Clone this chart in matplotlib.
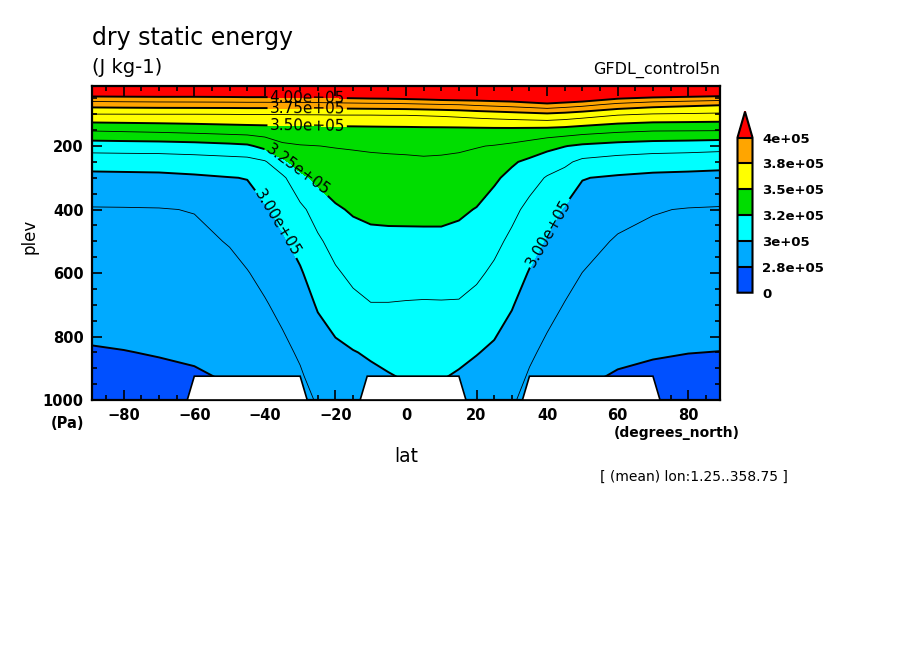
import numpy as np
import matplotlib
matplotlib.use("Agg")
import matplotlib.pyplot as plt
from matplotlib.ticker import MultipleLocator

W, H = 904, 654  # output size in pixels (dpi 100)

# --- data: zonal mean dry static energy (kJ/kg) ----
lat = [-89, -80, -70, -60, -50, -45, -40, -35, -30, -25, -20, -15, -10, -5,
       0, 5, 10, 15, 20, 25, 30, 35, 40, 45, 50, 60, 70, 80, 89]
plev = [1000, 925, 850, 700, 600, 500, 400, 300, 250, 200, 150, 100,
        70, 50, 30, 20, 10]

dse_1000 = [270.4, 270.8, 271.5, 272.3, 273.6, 275.2, 277.0, 280.0, 284.0, 288.5,
            291.0, 293.5, 295.0, 296.0, 297.0, 297.0, 296.0, 295.0, 293.0, 291.0,
            289.0, 283.4, 278.9, 274.8, 273.6, 272.4, 271.6, 271.1, 270.9]
dse_925 = [272.4, 272.8, 273.5, 274.2, 275.7, 277.3, 279.4, 282.4, 286.3, 291.6,
           294.3, 296.5, 297.8, 299.3, 301.0, 301.5, 300.8, 298.8, 296.7, 294.5,
           291.9, 286.4, 282.0, 278.0, 276.2, 274.4, 273.6, 273.1, 272.9]
dse_850 = [274.4, 274.8, 275.4, 276.1, 277.8, 279.5, 281.8, 284.9, 288.9, 294.7,
           297.6, 299.5, 301.3, 303.4, 304.6, 304.9, 304.4, 302.9, 300.5, 298.1,
           294.8, 289.3, 285.0, 281.0, 278.8, 276.5, 275.6, 275.1, 274.9]
dse_700 = [278.5, 278.8, 279.3, 279.9, 282.1, 284.0, 286.6, 290.3, 294.9, 301.0,
           305.3, 309.3, 312.1, 312.1, 311.8, 311.6, 311.7, 311.6, 309.0, 305.4,
           300.7, 295.3, 291.0, 287.1, 284.0, 280.7, 279.6, 279.1, 278.8]
dse_600 = [281.2, 281.5, 281.9, 282.5, 284.9, 287.0, 290.4, 294.3, 298.8, 305.8,
           310.9, 315.4, 317.3, 317.3, 317.1, 317.0, 317.1, 316.7, 314.5, 310.4,
           305.4, 299.3, 295.0, 291.0, 287.4, 283.5, 282.3, 281.7, 281.4]
dse_500 = [283.9, 284.2, 284.5, 285.1, 288.1, 291.3, 294.4, 298.4, 303.9, 310.5,
           317.1, 320.8, 322.3, 322.5, 322.5, 322.5, 322.5, 321.6, 319.5, 315.5,
           310.0, 304.2, 299.0, 295.0, 291.7, 286.3, 285.0, 284.4, 284.0]
dse_400 = [286.7, 286.8, 287.0, 287.9, 293.9, 295.7, 298.5, 303.8, 309.6, 318.0,
           323.6, 326.2, 327.4, 327.7, 327.8, 327.9, 327.9, 326.8, 324.5, 320.6,
           315.5, 309.4, 305.0, 298.9, 295.9, 291.5, 288.1, 287.0, 286.6]
dse_300 = [296.5, 296.8, 297.2, 298.3, 299.7, 300.3, 306.2, 310.2, 322.2, 327.6,
           330.6, 332.0, 332.7, 332.9, 333.1, 333.3, 333.1, 332.4, 331.0, 326.6,
           322.2, 316.9, 311.6, 308.1, 300.4, 298.6, 297.4, 296.8, 296.1]
dse_250 = [305.3, 305.5, 305.6, 306.5, 307.5, 308.0, 311.2, 322.4, 330.0, 332.5,
           334.1, 334.9, 335.4, 335.6, 335.7, 336.0, 335.8, 335.3, 334.3, 331.8,
           326.4, 322.5, 318.4, 314.8, 309.7, 307.1, 305.5, 305.0, 304.4]
dse_200 = [318.0, 318.4, 318.8, 319.8, 321.7, 323.0, 328.5, 335.5, 336.9, 337.4,
           338.0, 338.4, 338.9, 339.3, 339.7, 340.2, 339.8, 339.1, 338.0, 337.0,
           335.3, 332.6, 328.5, 325.4, 322.8, 320.3, 318.8, 318.0, 316.9]
dse_150 = [338.6, 339.5, 340.5, 341.8, 343.2, 343.8, 344.4, 344.7, 345.0, 345.3,
           345.6, 345.8, 346.1, 346.3, 346.5, 346.7, 346.7, 346.7, 346.8, 346.9,
           346.8, 346.4, 345.9, 344.9, 343.1, 340.3, 338.6, 338.4, 338.2]
dse_100 = [362.2, 362.3, 362.4, 362.4, 362.6, 362.8, 362.8, 362.8, 363.1, 363.1,
           363.4, 363.4, 363.4, 363.6, 363.6, 364.2, 364.9, 366.1, 367.6, 368.9,
           370.2, 371.5, 372.9, 371.3, 368.8, 363.8, 361.8, 361.2, 360.5]
dse_70 = [380.0, 380.6, 381.1, 381.3, 381.4, 381.6, 381.6, 381.8, 381.9, 382.1,
          382.6, 383.1, 383.6, 383.9, 384.6, 385.6, 386.6, 387.4, 389.2, 390.7,
          392.2, 394.2, 396.4, 393.8, 391.1, 383.8, 379.7, 377.5, 375.8]
dse_50 = [394.6, 395.3, 395.7, 395.8, 396.3, 396.7, 396.7, 397.1, 397.5, 397.9,
          398.8, 399.6, 400.4, 400.8, 401.7, 402.9, 404.5, 405.4, 405.8, 406.9,
          407.8, 410.8, 414.3, 411.6, 408.9, 400.9, 397.1, 395.2, 393.3]
dse_30 = [412.5, 412.5, 413.0, 412.5, 412.9, 413.3, 413.3, 413.8, 414.2, 414.6,
          415.4, 416.3, 417.0, 417.5, 418.3, 419.6, 421.0, 423.0, 422.5, 423.0,
          423.4, 427.5, 431.0, 428.0, 425.0, 418.8, 416.3, 414.4, 412.5]
dse_20 = [422, 422, 422, 422, 422, 422, 422, 422, 422, 423, 424, 425, 426, 427,
          428, 429, 430, 431, 431, 432, 432, 435, 438, 436, 434, 428, 426, 424, 422]
dse_10 = [435, 435, 435, 435, 435, 435, 435, 435, 435, 435, 436, 437, 438, 439,
          440, 441, 442, 443, 443, 444, 444, 446, 448, 447, 445, 440, 438, 436, 434]

# latitude ranges with no data on the lowest level (grid spacing 2 deg)
missing_1000 = [(-60, -30), (-11, 15), (35, 70)]
dlat = 2

fill_levels = [0, 275e3, 300e3, 325e3, 350e3, 375e3, 400e3]
thick_levels = [275e3, 300e3, 325e3, 350e3, 375e3, 400e3]
thin_levels = [287.5e3, 312.5e3, 337.5e3, 362.5e3, 387.5e3]
fill_colors = ["#0050ff", "#00aaff", "#00ffff", "#00dd00", "#ffff00",
               "#ffa500", "#ff0000"]

dse = np.array([dse_1000, dse_925, dse_850, dse_700, dse_600, dse_500,
                dse_400, dse_300, dse_250, dse_200, dse_150, dse_100,
                dse_70, dse_50, dse_30, dse_20, dse_10]) * 1e3

plt.rcParams.update({"font.family": "DejaVu Sans"})

fig = plt.figure(figsize=(W / 100, H / 100), dpi=100)
ax = fig.add_axes([92 / W, 1 - 400 / H, 628 / W, 314.3 / H])

cf = ax.contourf(lat, plev, dse, levels=fill_levels, colors=fill_colors,
                 extend="max")
ax.contour(lat, plev, dse, levels=thin_levels, colors="k", linewidths=0.6)
cs = ax.contour(lat, plev, dse, levels=thick_levels, colors="k",
                linewidths=1.4)
ax.clabel(cs, fmt="%.2e", fontsize=11, inline=True, inline_spacing=2,
          manual=[(-28, 47), (-28, 80), (-28, 121), (-31, 280),
                  (-36, 440), (40, 470)])
# the inverted pressure axis turns the label angles the wrong way round
for t in cs.labelTexts:
    t.set_rotation(-t.get_rotation())

# blank out the missing points at the bottom level
for a, b in missing_1000:
    ax.fill([a - dlat, a, b, b + dlat], [plev[0], plev[1], plev[1], plev[0]],
            facecolor="white", edgecolor="black", lw=1.2, zorder=5)

ax.set_xlim(-89, 89)
ax.set_ylim(1000, 10)
ax.set_xticks(range(-80, 81, 20))
ax.set_yticks(range(200, 1001, 200))
ax.xaxis.set_minor_locator(MultipleLocator(5))
ax.yaxis.set_minor_locator(MultipleLocator(50))
ax.tick_params(which="both", direction="in", top=True, right=True,
               width=1.2, labelsize=10.5, pad=6)
ax.tick_params(which="major", length=7)
ax.tick_params(which="minor", length=3.5)
for t in ax.get_xticklabels() + ax.get_yticklabels():
    t.set_fontweight("bold")
for s in ax.spines.values():
    s.set_linewidth(1.6)

# colour bar with the red "over" triangle
cax = fig.add_axes([737.5 / W, 1 - 292.7 / H, 15 / W, 181 / H])
cbar = fig.colorbar(cf, cax=cax, extendfrac="auto", drawedges=True)
cbar.set_ticks(fill_levels)
cbar.set_ticklabels(["%.2g" % v for v in fill_levels])
cbar.ax.tick_params(length=0, pad=7, labelsize=9.5)
for t in cbar.ax.get_yticklabels():
    t.set_fontweight("bold")
cbar.outline.set_linewidth(1.5)
cbar.dividers.set_linewidth(1.5)

# texts
fig.text(92 / W, 1 - 45 / H, "dry static energy", fontsize=17,
         va="baseline", ha="left")
fig.text(92 / W, 1 - 73 / H, "(J kg-1)", fontsize=14, va="baseline",
         ha="left")
fig.text(720 / W, 1 - 74 / H, "GFDL_control5n", fontsize=11.5,
         va="baseline", ha="right")
fig.text(30 / W, 1 - 236 / H, "plev", fontsize=12, rotation=90,
         va="center", ha="center")
fig.text(406.5 / W, 1 - 456 / H, "lat", fontsize=13.5, va="center",
         ha="center")
fig.text(84 / W, 1 - 424 / H, "(Pa)", fontsize=10.5, fontweight="bold",
         va="center", ha="right")
fig.text(677 / W, 1 - 433 / H, "(degrees_north)", fontsize=10,
         fontweight="bold", va="center", ha="center")
fig.text(694 / W, 1 - 477 / H, "[ (mean) lon:1.25..358.75 ]", fontsize=10,
         va="center", ha="center")

fig.savefig("out.png", dpi=100, facecolor="white")
